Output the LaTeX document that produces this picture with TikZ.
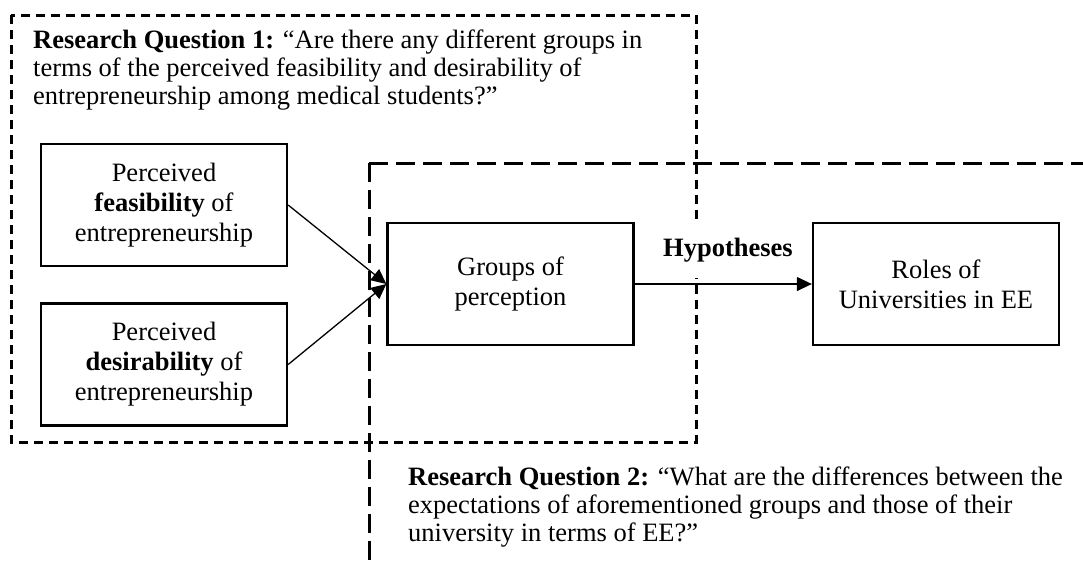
\documentclass[tikz,border=0pt]{standalone}
\usepackage{fontspec}
\setmainfont{Liberation Serif}
\usetikzlibrary{arrows.meta}
\begin{document}
\begin{tikzpicture}[x=1pt,y=-1pt,
  box/.style={draw, line width=2.3pt, minimum width=246pt, minimum height=122pt, inner sep=0pt, align=center, font=\fontsize{26.5}{30}\selectfont},
  conn/.style={line width=1.3pt, -{Triangle[length=15pt,width=14pt]}},
  qtext/.style={align=left, inner sep=0pt, font=\fontsize{26.5}{28}\selectfont},
  dashA/.style={line width=3pt, dash pattern=on 9pt off 6pt},
  dashB/.style={line width=3pt, dash pattern=on 19pt off 8pt},
  hyp/.style={fill=white, inner xsep=4pt, inner ysep=0pt, minimum height=55pt, font=\fontsize{26.5}{28}\selectfont\bfseries}]
\useasboundingbox (0,0) rectangle (1083,563);
\begin{scope}
\clip (0,0) rectangle (1083,563);
% boxes
\node[box] (feas) at (164,205) {Perceived\\\textbf{feasibility} of\\entrepreneurship};
\node[box] (desi) at (164,364.5) {Perceived\\\textbf{desirability} of\\entrepreneurship};
\node[box] (grp) at (510.5,284) {Groups of\\perception};
\node[box] (role) at (936,284) {Roles of\\Universities in EE};
% connectors
\draw[conn] (feas.east) -- (grp.west);
\draw[conn] (desi.east) -- (grp.west);
\draw[conn] (grp.east) -- (role.west);
% dashed frames
\draw[dashA] (11,15) rectangle (696,442);
\draw[dashB] (369,163) -- (1100,163);
\draw[dashB] (369,163) -- (369,600);
% texts
\node[qtext, anchor=north west] (rq1) at (33,30) {\textbf{Research Question 1:} “Are there any different groups in\\terms of the perceived feasibility and desirability of\\entrepreneurship among medical students?”};
\node[qtext, anchor=north west] (rq2) at (408,467) {\textbf{Research Question 2:} “What are the differences between the\\expectations of aforementioned groups and those of their\\university in terms of EE?”};
\node[hyp] (hyp) at (728,250.5) {Hypotheses};
\end{scope}
\end{tikzpicture}
\end{document}
